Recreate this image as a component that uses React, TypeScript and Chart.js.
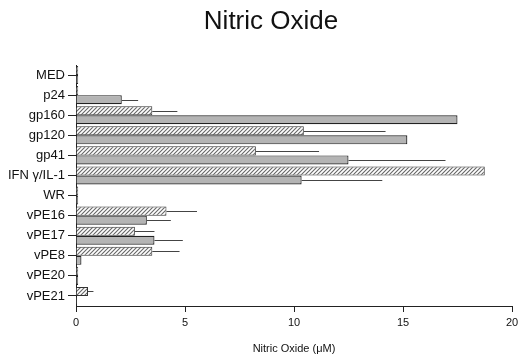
import React, { useEffect, useRef } from "react";
import { Chart, registerables } from "chart.js";

Chart.register(...registerables);

const categories = ["MED", "p24", "gp160", "gp120", "gp41", "IFN γ/IL-1", "WR", "vPE16", "vPE17", "vPE8", "vPE20", "vPE21"];
const hatchedValues = [0.1, 0.1, 3.5, 10.45, 8.25, 18.75, 0.1, 4.15, 2.7, 3.5, 0.1, 0.55];
const hatchedErrors = [null, null, 4.65, 14.2, 11.15, null, null, 5.55, 3.6, 4.75, null, 0.8];
const grayValues = [0.1, 2.1, 17.5, 15.2, 12.5, 10.35, 0.1, 3.25, 3.6, 0.25, 0.1, 0.05];
const grayErrors = [null, 2.85, null, null, 16.95, 14.05, null, 4.35, 4.9, null, null, null];
const xTicks = [0, 5, 10, 15, 20];

function makeHatch(): CanvasPattern | string {
  const c = document.createElement("canvas");
  c.width = 4;
  c.height = 4;
  const g = c.getContext("2d");
  if (!g) return "#ddd";
  g.fillStyle = "#ffffff";
  g.fillRect(0, 0, 4, 4);
  g.strokeStyle = "#666";
  g.lineWidth = 1.1;
  g.beginPath();
  g.moveTo(-1, 5); g.lineTo(5, -1);
  g.moveTo(-1, 1); g.lineTo(1, -1);
  g.moveTo(3, 5); g.lineTo(5, 3);
  g.stroke();
  const p = g.createPattern(c, "repeat");
  return p || "#ddd";
}

const errorPlugin = {
  id: "errorBars",
  afterDatasetsDraw(chart: any) {
    const ctx = chart.ctx;
    const xs = chart.scales.x;
    const errs = [hatchedErrors, grayErrors];
    ctx.save();
    ctx.strokeStyle = "#444";
    ctx.lineWidth = 1;
    errs.forEach((arr, di) => {
      const meta = chart.getDatasetMeta(di);
      meta.data.forEach((el: any, i: number) => {
        const e = arr[i];
        if (e == null) return;
        const xe = xs.getPixelForValue(e);
        ctx.beginPath();
        ctx.moveTo(el.x, Math.round(el.y) + 0.5);
        ctx.lineTo(xe, Math.round(el.y) + 0.5);
        ctx.stroke();
      });
    });
    ctx.restore();
  },
};

const titlePlugin = {
  id: "customTitle",
  afterDraw(chart: any) {
    const ctx = chart.ctx;
    ctx.save();
    ctx.fillStyle = "#111";
    ctx.font = "26px 'Liberation Sans', Arial, sans-serif";
    ctx.textAlign = "center";
    ctx.textBaseline = "middle";
    ctx.fillText("Nitric Oxide", 271, 22);
    ctx.restore();
  },
};

export default function App() {
  const ref = useRef<HTMLCanvasElement>(null);
  useEffect(() => {
    if (!ref.current) return;
    const hatch = makeHatch();
    const chart = new Chart(ref.current, {
      type: "bar",
      data: {
        labels: categories,
        datasets: [
          {
            data: hatchedValues,
            backgroundColor: hatch as any,
            borderColor: "#333",
            borderWidth: 1,
            categoryPercentage: 0.9,
            barPercentage: 1.0,
          },
          {
            data: grayValues,
            backgroundColor: "#b4b4b4",
            borderColor: "#222",
            borderWidth: 1.2,
            categoryPercentage: 0.9,
            barPercentage: 1.0,
          },
        ],
      },
      options: {
        indexAxis: "y",
        responsive: false,
        animation: false,
        layout: { padding: { top: 65, right: 7, bottom: 0, left: 0 } },
        plugins: {
          legend: { display: false },
          tooltip: { enabled: false },
          title: { display: false },
        },
        scales: {
          x: {
            type: "linear",
            min: 0,
            max: 20,
            afterBuildTicks: (s: any) => {
              s.ticks = xTicks.map((v) => ({ value: v }));
            },
            grid: { drawOnChartArea: false, drawTicks: true, tickLength: 6, color: "#222" },
            border: { display: true, color: "#222", width: 1 },
            ticks: {
              color: "#111",
              padding: 4,
              maxRotation: 0,
              font: { family: "'Liberation Sans', Arial, sans-serif", size: 11 },
            },
            title: {
              display: true,
              text: "Nitric Oxide (μM)",
              color: "#111",
              padding: { top: 12, bottom: 0 },
              font: { family: "'Liberation Sans', Arial, sans-serif", size: 11 },
            },
            afterFit: (s: any) => {
              s.height = 50;
              s.paddingRight = 0;
              s.paddingLeft = 0;
            },
          },
          y: {
            type: "category",
            offset: true,
            grid: { drawOnChartArea: false, drawTicks: true, tickLength: 8, offset: false, color: "#222" },
            border: { display: true, color: "#222", width: 1 },
            ticks: {
              color: "#111",
              padding: 3,
              autoSkip: false,
              font: { family: "'Liberation Sans', Arial, sans-serif", size: 13 },
            },
            afterFit: (s: any) => {
              s.width = 76;
              s.paddingTop = 0;
              s.paddingBottom = 0;
            },
          },
        },
      },
      plugins: [errorPlugin, titlePlugin],
    });
    return () => chart.destroy();
  }, []);
  return (
    <div style={{ position: "fixed", left: 0, top: 0, width: 519, height: 356, background: "#fff" }}>
      <canvas ref={ref} width={519} height={356} style={{ display: "block" }} />
    </div>
  );
}
